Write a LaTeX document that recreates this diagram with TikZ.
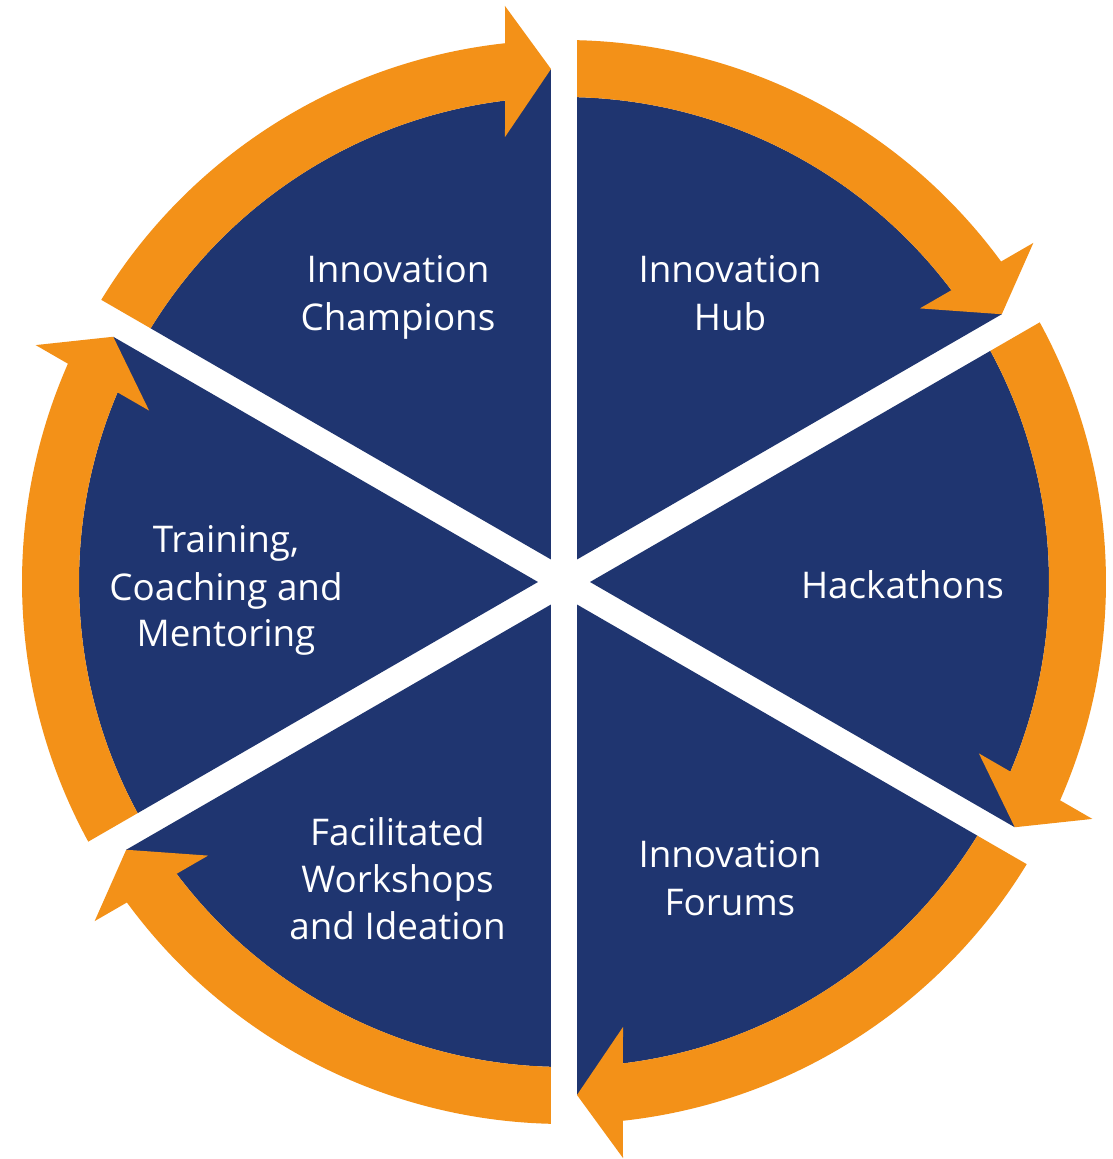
\documentclass[tikz,border=0pt]{standalone}
\usepackage{fontspec}
\setmainfont{Open Sans}
\definecolor{navy}{RGB}{31,53,112}
\definecolor{amber}{RGB}{243,145,24}
\begin{document}
\begin{tikzpicture}[x=1pt,y=1pt,
  sector/.style={fill=navy},
  ringarrow/.style={fill=amber},
  lbl/.style={text=white,font=\fontsize{36.8}{46}\selectfont,inner sep=0pt,anchor=base}]
\useasboundingbox[fill=white] (-564,-577) rectangle (548,582);
% blue sectors and orange curved arrows (clockwise), one rotated copy per sector
\foreach \r in {0,-60,-120,-180,-240,-300} {
  \begin{scope}[rotate=\r]
    \fill[sector] (120:26) -- (-13,513) -- (96.987:485)
      arc[start angle=96.987, end angle=148.464, radius=485] -- cycle;
  \end{scope}
}
\foreach \r in {0,-60,-120,-180,-240,-300} {
  \begin{scope}[rotate=\r]
    \fill[ringarrow] (148.626:542) arc[start angle=148.626, end angle=96.249, radius=542]
      -- (-59,576) -- (-13,513) -- (-59,445) -- (96.987:485)
      arc[start angle=96.987, end angle=148.464, radius=485] -- cycle;
  \end{scope}
}
% labels
\node[lbl] (champA) at (-166,299) {Innovation};
\node[lbl] (champB) at (-166,251.5) {Champions};
\node[lbl] (hubA) at (166,299) {Innovation};
\node[lbl] (hubB) at (166,251.5) {Hub};
\node[lbl] (hack) at (338.5,-16.3) {Hackathons};
\node[lbl] (forA) at (166,-285.7) {Innovation};
\node[lbl] (forB) at (166,-333) {Forums};
\node[lbl] (facA) at (-166.5,-263) {Facilitated};
\node[lbl] (facB) at (-166.5,-310) {Workshops};
\node[lbl] (facC) at (-166.5,-357) {and Ideation};
\node[lbl] (trA) at (-338,29.3) {Training,};
\node[lbl] (trB) at (-338,-18) {Coaching and};
\node[lbl] (trC) at (-338,-64.7) {Mentoring};
\end{tikzpicture}
\end{document}
